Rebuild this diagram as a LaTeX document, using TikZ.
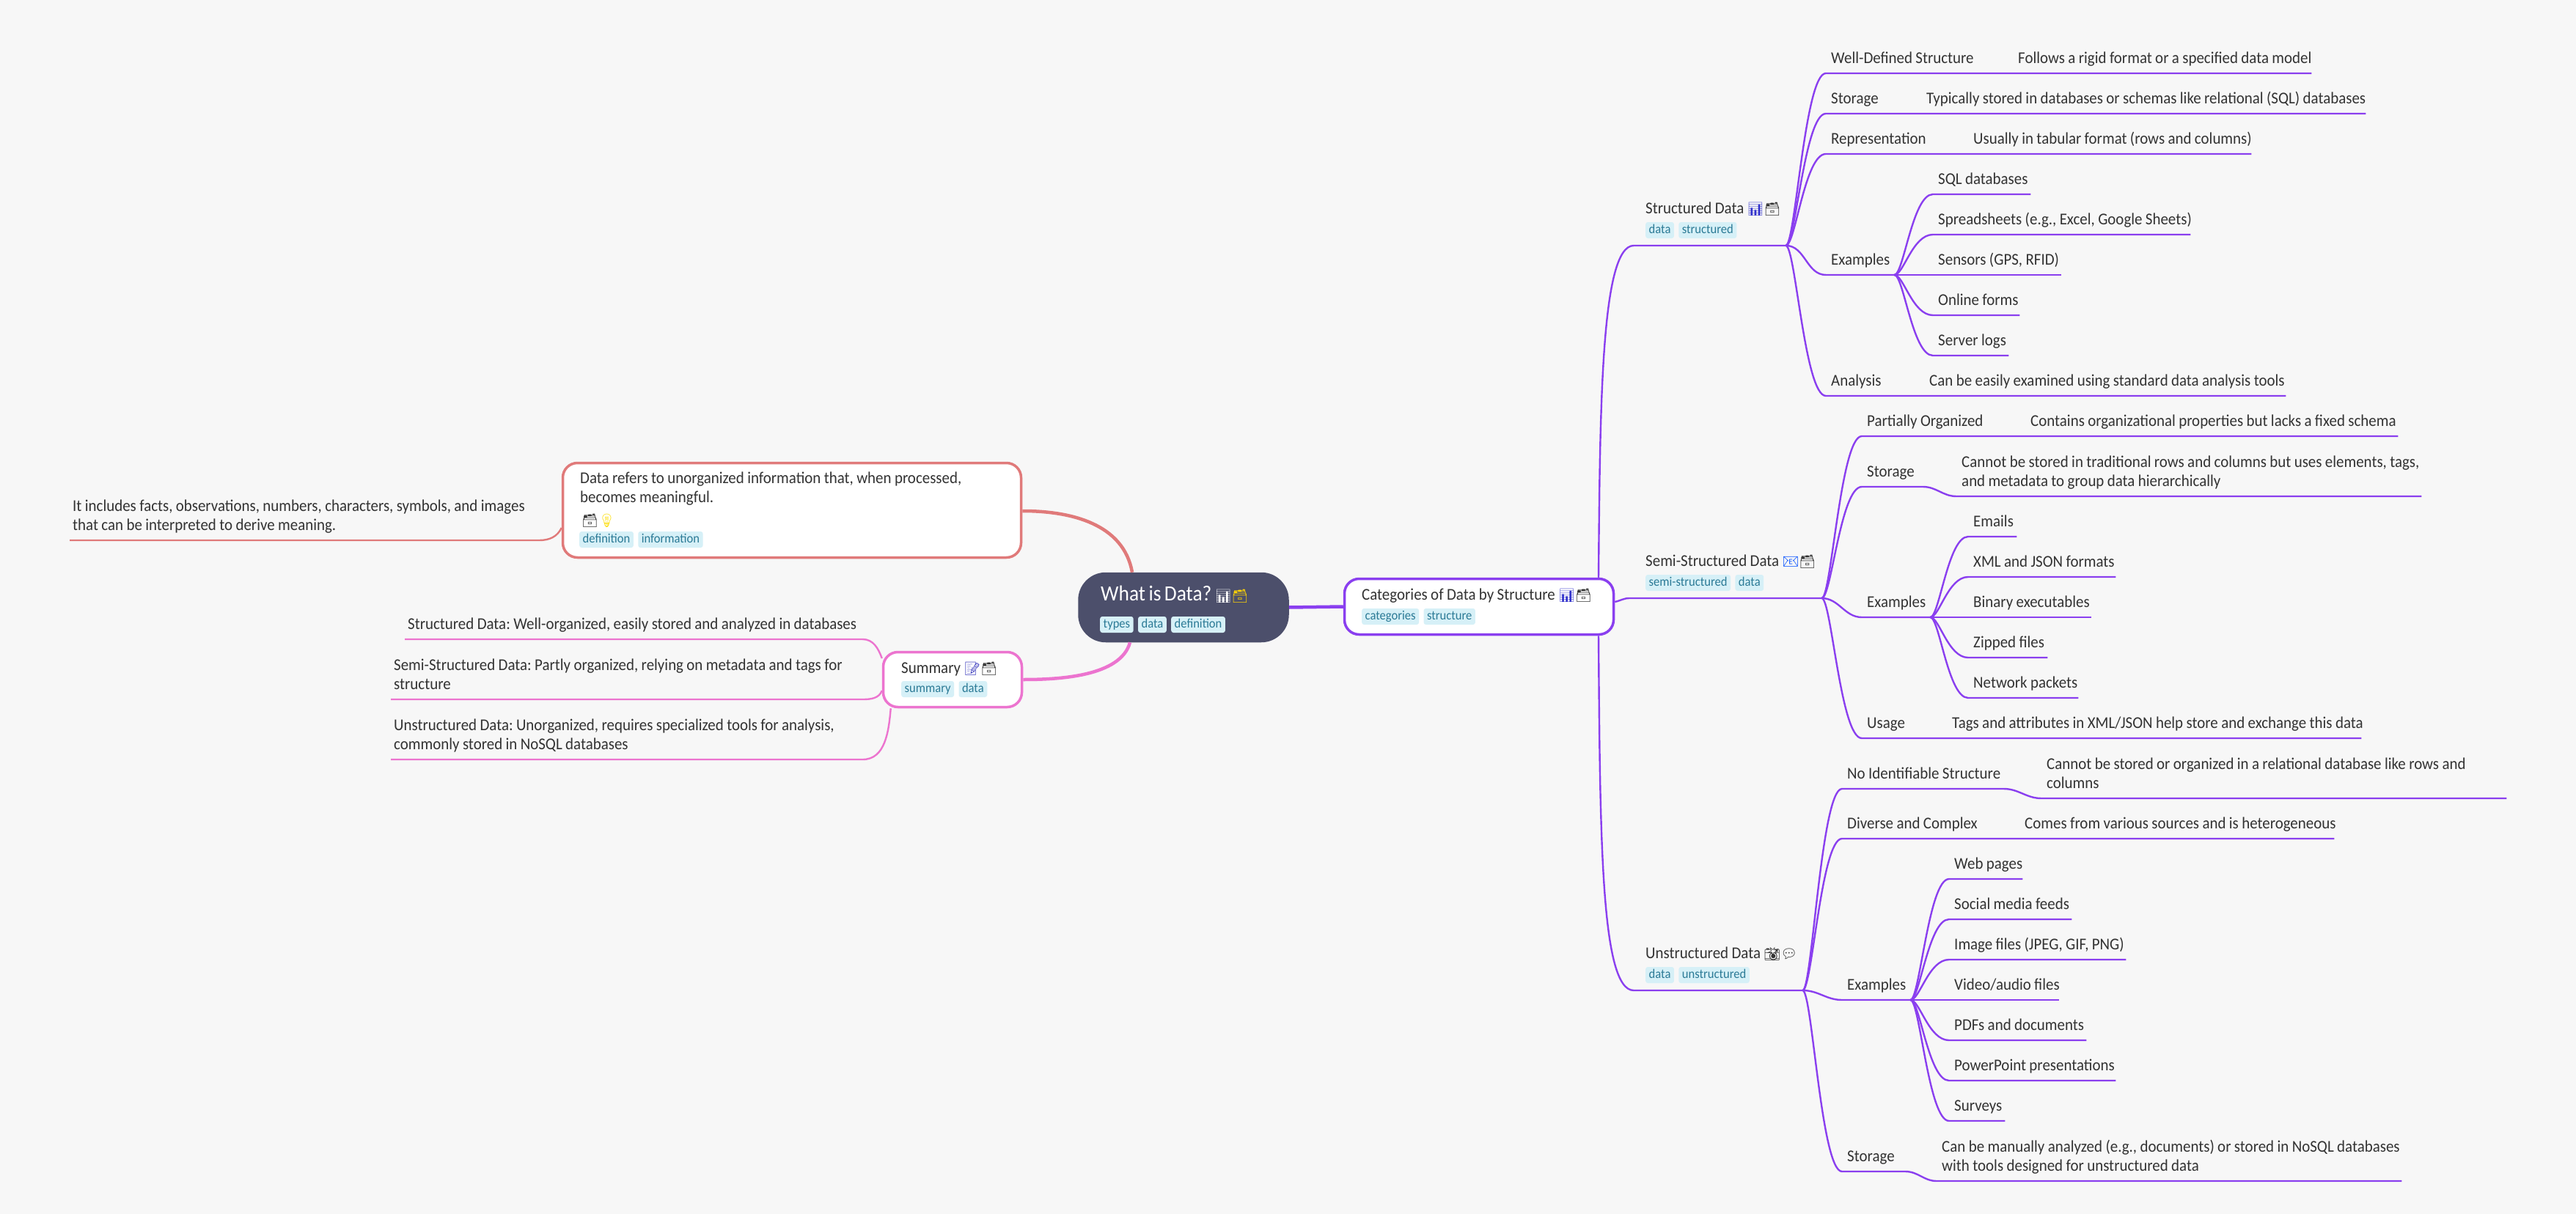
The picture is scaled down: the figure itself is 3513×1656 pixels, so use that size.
\documentclass[tikz,border=0pt]{standalone}
\usepackage{fontspec}
\usepackage{xcolor}
\usetikzlibrary{positioning, calc}
\setmainfont[FakeStretch=0.93]{Carlito}
\newfontfamily\emojifont{Noto Emoji}
\definecolor{pagebg}{HTML}{F7F7F7}
\definecolor{violet}{HTML}{8A3FEF}
\definecolor{salmon}{HTML}{E07A7A}
\definecolor{orchid}{HTML}{EC74CF}
\definecolor{slate}{HTML}{4C4F6B}
\definecolor{ink}{HTML}{333333}
\definecolor{tagfill}{HTML}{D6F0F7}
\definecolor{tagink}{HTML}{2B7A96}
\newcommand{\fmain}{\fontsize{22.5}{26}\selectfont}
\newcommand{\emj}[2]{{\color{#1}\fontsize{18}{18}\selectfont\emojifont #2}}
\newcommand{\chart}{\emj{blue!60!gray}{📊}}
\newcommand{\cabinet}{\emj{ink}{🗃}}
\newcommand{\tightsp}{\frenchspacing\spaceskip=4.4pt\relax}
\newcommand{\nobrk}{\rightskip=-90pt\relax\hyphenpenalty=10000\relax\tightsp}
\tikzset{
    item/.style={anchor=south west, inner sep=0pt, text width=#1, text depth=13.5pt, align=left,
        text=ink, font=\fmain, execute at begin node={\leftskip=7pt\relax\nobrk}},
    twolines/.style={text depth=39.5pt},
    head/.style={text depth=43pt, execute at begin node={\leftskip=16pt\relax}},
    far/.style={execute at begin node={\leftskip=4pt\relax}},
    caption/.style={anchor=base west, inner sep=0pt, text=ink, font=\fmain, execute at begin node={\tightsp}},
    topic/.style={draw, fill=white, inner sep=0pt, line width=3.5pt, rounded corners=20pt},
    tag/.style={fill=tagfill, text=tagink, font=\fontsize{17.8}{18}\selectfont, rounded corners=3pt,
        inner xsep=4.5pt, inner ysep=0pt, minimum height=22pt, text height=12pt, text depth=4pt, anchor=west},
    branch/.style={to path={let \p1=(\tikztostart), \p2=(\tikztotarget), \n1={\x2-\x1} in
        .. controls ({\x1+.24*\n1},\y1) and ({\x1+.47*\n1},\y2) .. (\tikztotarget) \tikztonodes}},
    plink/.style={draw=violet, line width=2.4pt},
    rlink/.style={draw=salmon, line width=2.4pt},
    olink/.style={draw=orchid, line width=2.4pt}
}
\begin{document}
\begin{tikzpicture}[x=1pt, y=-1pt]
    \fill[pagebg, use as bounding box] (0,0) rectangle (3513,1656);

    % Topics in the middle
    \node[topic, draw=slate, fill=slate, rounded corners=36pt, minimum width=284pt, minimum height=92pt] (root) at (1614,828.5) {};
    \node[caption, text=white, font=\fontsize{29.5}{30}\selectfont] (rt_lbl) at (1501,819) {What is Data? \emj{white}{📊}\emj{yellow!70!orange}{🗃}};
    \node[tag] (rt_a) at (1500,852) {types};
    \node[tag, right=6pt of rt_a] (rt_b) {data};
    \node[tag, right=6pt of rt_b] (rt_c) {definition};

    \node[topic, draw=salmon, minimum width=625pt, minimum height=129pt] (defn) at (1080,696) {};
    \node[caption, text width=600pt, align=left] (df_lbl) at (791,659) {Data refers to unorganized information that, when processed,\\becomes meaningful.};
    \node[caption] (df_emj) at (793,716) {\cabinet\emj{yellow!80!orange}{💡}};
    \node[tag] (df_a) at (790,736) {definition};
    \node[tag, right=6pt of df_a] (df_b) {information};

    \node[topic, draw=orchid, minimum width=189pt, minimum height=75pt] (summ) at (1299,927) {};
    \node[caption] (su_lbl) at (1229,918) {Summary \emj{blue!50!gray}{📝}\cabinet};
    \node[tag] (su_a) at (1229,940) {summary};
    \node[tag, right=6pt of su_a] (su_b) {data};

    \node[topic, draw=violet, minimum width=367pt, minimum height=76pt] (cat) at (2017,827.5) {};
    \node[caption] (ct_lbl) at (1857,818) {Categories of Data by Structure \chart\cabinet};
    \node[tag] (ct_a) at (1857,841) {categories};
    \node[tag, right=6pt of ct_a] (ct_b) {structure};

    % Left side
    \node[item=640pt, twolines, far] (df_more) at (95,737) {It includes facts, observations, numbers, characters, symbols, and images\\that can be interpreted to derive meaning.};
    \node[item=624pt, far] (su_st) at (552,872) {Structured Data: Well-organized, easily stored and analyzed in databases};
    \node[item=643pt, twolines, far] (su_se) at (533,954) {Semi-Structured Data: Partly organized, relying on metadata and tags for\\structure};
    \node[item=643pt, twolines, far] (su_un) at (533,1036) {Unstructured Data: Unorganized, requires specialized tools for analysis,\\commonly stored in NoSQL databases};

    % Structured data
    \node[item=207pt, head] (st) at (2228,335) {Structured Data \chart\cabinet};
    \node[tag] (st_a) at (2244,314) {data};
    \node[tag, right=6pt of st_a] (st_b) {structured};
    \node[item=210pt] (st_well) at (2490,100) {Well-Defined Structure};
    \node[item=407pt] (st_well2) at (2745,100) {Follows a rigid format or a specified data model};
    \node[item=110pt] (st_stor) at (2490,155) {Storage};
    \node[item=606pt] (st_stor2) at (2620,155) {Typically stored in databases or schemas like relational (SQL) databases};
    \node[item=160pt] (st_repr) at (2490,210) {Representation};
    \node[item=386pt] (st_repr2) at (2684,210) {Usually in tabular format (rows and columns)};
    \node[item=93pt] (st_ex) at (2490,375) {Examples};
    \node[item=133pt] (st_ex1) at (2636,265) {SQL databases};
    \node[item=351pt] (st_ex2) at (2636,320) {Spreadsheets (e.g., Excel, Google Sheets)};
    \node[item=175pt] (st_ex3) at (2636,375) {Sensors (GPS, RFID)};
    \node[item=118pt] (st_ex4) at (2636,430) {Online forms};
    \node[item=103pt] (st_ex5) at (2636,485) {Server logs};
    \node[item=110pt] (st_ana) at (2490,540) {Analysis};
    \node[item=493pt] (st_ana2) at (2624,540) {Can be easily examined using standard data analysis tools};

    % Semi-structured data
    \node[item=262pt, head, execute at begin node={\leftskip=22pt\relax}] (se) at (2222,816) {Semi-Structured Data \emj{blue!70!cyan}{📧}\cabinet};
    \node[tag] (se_a) at (2244,795) {semi-structured};
    \node[tag, right=6pt of se_a] (se_b) {data};
    \node[item=181pt] (se_part) at (2539,595) {Partially Organized};
    \node[item=508pt] (se_part2) at (2762,595) {Contains organizational properties but lacks a fixed schema};
    \node[item=83pt] (se_stor) at (2539,664) {Storage};
    \node[item=634pt, twolines] (se_stor2) at (2668,677) {Cannot be stored in traditional rows and columns but uses elements, tags,\\and metadata to group data hierarchically};
    \node[item=93pt] (se_ex) at (2539,842) {Examples};
    \node[item=66pt] (se_ex1) at (2684,732) {Emails};
    \node[item=201pt] (se_ex2) at (2684,787) {XML and JSON formats};
    \node[item=168pt] (se_ex3) at (2684,842) {Binary executables};
    \node[item=108pt] (se_ex4) at (2684,897) {Zipped files};
    \node[item=150pt] (se_ex5) at (2684,952) {Network packets};
    \node[item=101pt] (se_use) at (2539,1007) {Usage};
    \node[item=565pt] (se_use2) at (2655,1007) {Tags and attributes in XML/JSON help store and exchange this data};

    % Unstructured data
    \node[item=230pt, head] (un) at (2228,1351) {Unstructured Data \emj{ink}{📸}\emj{ink}{💬}};
    \node[tag] (un_a) at (2244,1330) {data};
    \node[tag, right=6pt of un_a] (un_b) {unstructured};
    \node[item=220pt] (un_id) at (2512,1076) {No Identifiable Structure};
    \node[item=634pt, twolines] (un_id2) at (2784,1089) {Cannot be stored or organized in a relational database like rows and\\columns};
    \node[item=208pt] (un_div) at (2512,1144) {Diverse and Complex};
    \node[item=429pt] (un_div2) at (2754,1144) {Comes from various sources and is heterogeneous};
    \node[item=93pt] (un_ex) at (2512,1364) {Examples};
    \node[item=100pt] (un_ex1) at (2658,1199) {Web pages};
    \node[item=167pt] (un_ex2) at (2658,1254) {Social media feeds};
    \node[item=241pt] (un_ex3) at (2658,1309) {Image files (JPEG, GIF, PNG)};
    \node[item=150pt] (un_ex4) at (2658,1364) {Video/audio files};
    \node[item=187pt] (un_ex5) at (2658,1419) {PDFs and documents};
    \node[item=227pt] (un_ex6) at (2658,1474) {PowerPoint presentations};
    \node[item=76pt] (un_ex7) at (2658,1529) {Surveys};
    \node[item=86pt] (un_stor) at (2512,1598) {Storage};
    \node[item=634pt, twolines] (un_stor2) at (2641,1611) {Can be manually analyzed (e.g., documents) or stored in NoSQL databases\\with tools designed for unstructured data};

    % Paths out of the root
    \draw[rlink, line width=4.5pt] ([xshift=-70pt]root.north) to[out=100, in=0] ([yshift=-1pt]defn.east);
    \draw[olink, line width=4.5pt] ([xshift=-73pt]root.south) to[out=-105, in=0, looseness=.8] (summ.east);
    \draw[plink, line width=4.5pt] (root.east) -- (cat.west);

    % Paths on the left
    \draw[rlink] ([yshift=-24pt]defn.west) to[out=-115, in=0] (df_more.south east) -- (df_more.south west);
    \draw[olink] ([yshift=29pt]summ.west) to[out=110, in=0] (su_st.south east) -- (su_st.south west);
    \draw[olink] ([yshift=-15pt]summ.west) to[out=-110, in=0] (su_se.south east) -- (su_se.south west);
    \draw[olink] ([xshift=12pt]summ.south west) to[out=-95, in=0] (su_un.south east) -- (su_un.south west);

    % Paths out of categories
    \draw[plink] ([xshift=163pt]cat.north) .. controls (2182,560) and (2183,335) .. (st.south west) -- (st.south east);
    \draw[plink] ([yshift=6.5pt]cat.east) to[out=12, in=180] (se.south west) -- (se.south east);
    \draw[plink] ([xshift=163pt]cat.south) .. controls (2182,1140) and (2183,1351) .. (un.south west) -- (un.south east);

    % Paths under structured data
    \draw[plink] (st.south east) to[branch] (st_well.south west) -- (st_well.south east) -- (st_well2.south west) -- (st_well2.south east);
    \draw[plink] (st.south east) to[branch] (st_stor.south west) -- (st_stor.south east) -- (st_stor2.south west) -- (st_stor2.south east);
    \draw[plink] (st.south east) to[branch] (st_repr.south west) -- (st_repr.south east) -- (st_repr2.south west) -- (st_repr2.south east);
    \draw[plink] (st.south east) to[out=0, in=180] (st_ex.south west) -- (st_ex.south east);
    \draw[plink] (st.south east) to[branch] (st_ana.south west) -- (st_ana.south east) -- (st_ana2.south west) -- (st_ana2.south east);
    \draw[plink] (st_ex.south east) to[branch] (st_ex1.south west) -- (st_ex1.south east);
    \draw[plink] (st_ex.south east) to[branch] (st_ex2.south west) -- (st_ex2.south east);
    \draw[plink] (st_ex.south east) -- (st_ex3.south west) -- (st_ex3.south east);
    \draw[plink] (st_ex.south east) to[branch] (st_ex4.south west) -- (st_ex4.south east);
    \draw[plink] (st_ex.south east) to[branch] (st_ex5.south west) -- (st_ex5.south east);

    % Paths under semi-structured data
    \draw[plink] (se.south east) to[branch] (se_part.south west) -- (se_part.south east) -- (se_part2.south west) -- (se_part2.south east);
    \draw[plink] (se.south east) to[branch] (se_stor.south west) -- (se_stor.south east) to[out=0, in=180] (se_stor2.south west) -- (se_stor2.south east);
    \draw[plink] (se.south east) to[out=0, in=180] (se_ex.south west) -- (se_ex.south east);
    \draw[plink] (se.south east) to[branch] (se_use.south west) -- (se_use.south east) -- (se_use2.south west) -- (se_use2.south east);
    \draw[plink] (se_ex.south east) to[branch] (se_ex1.south west) -- (se_ex1.south east);
    \draw[plink] (se_ex.south east) to[branch] (se_ex2.south west) -- (se_ex2.south east);
    \draw[plink] (se_ex.south east) -- (se_ex3.south west) -- (se_ex3.south east);
    \draw[plink] (se_ex.south east) to[branch] (se_ex4.south west) -- (se_ex4.south east);
    \draw[plink] (se_ex.south east) to[branch] (se_ex5.south west) -- (se_ex5.south east);

    % Paths under unstructured data
    \draw[plink] (un.south east) to[branch] (un_id.south west) -- (un_id.south east) to[out=0, in=180] (un_id2.south west) -- (un_id2.south east);
    \draw[plink] (un.south east) to[branch] (un_div.south west) -- (un_div.south east) -- (un_div2.south west) -- (un_div2.south east);
    \draw[plink] (un.south east) to[out=0, in=180] (un_ex.south west) -- (un_ex.south east);
    \draw[plink] (un.south east) to[branch] (un_stor.south west) -- (un_stor.south east) to[out=0, in=180] (un_stor2.south west) -- (un_stor2.south east);
    \draw[plink] (un_ex.south east) to[branch] (un_ex1.south west) -- (un_ex1.south east);
    \draw[plink] (un_ex.south east) to[branch] (un_ex2.south west) -- (un_ex2.south east);
    \draw[plink] (un_ex.south east) to[branch] (un_ex3.south west) -- (un_ex3.south east);
    \draw[plink] (un_ex.south east) -- (un_ex4.south west) -- (un_ex4.south east);
    \draw[plink] (un_ex.south east) to[branch] (un_ex5.south west) -- (un_ex5.south east);
    \draw[plink] (un_ex.south east) to[branch] (un_ex6.south west) -- (un_ex6.south east);
    \draw[plink] (un_ex.south east) to[branch] (un_ex7.south west) -- (un_ex7.south east);
\end{tikzpicture}
\end{document}
